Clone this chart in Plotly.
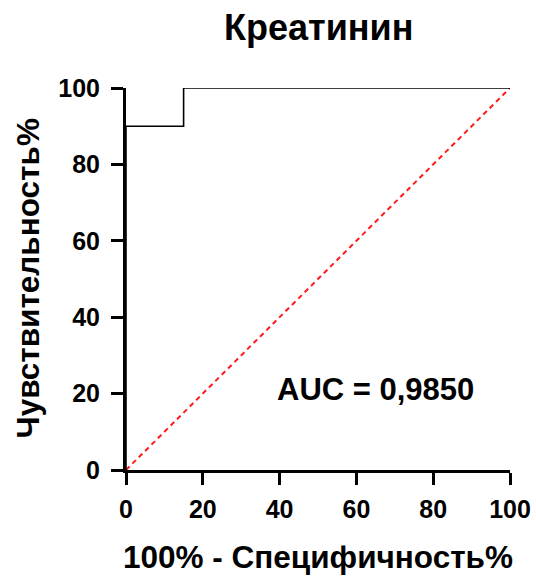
import plotly.graph_objects as go

fpr = [0, 0, 15, 15, 100]
tpr = [0, 90, 90, 100, 100]
diag_x = [0, 100]
diag_y = [0, 100]
ticks = [0, 20, 40, 60, 80, 100]
auc_text = "AUC = 0,9850"

font = "Liberation Sans, Arial, sans-serif"

W, H = 536, 576
L, R, T, B = 126, 26, 88, 106
PW, PH = W - L - R, H - T - B

fig = go.Figure()
fig.add_trace(go.Scatter(x=diag_x, y=diag_y, mode="lines",
                         line=dict(color="#ff1a1a", width=2, dash="5px,4px"),
                         hoverinfo="skip", cliponaxis=False))
fig.add_trace(go.Scatter(x=fpr, y=tpr, mode="lines",
                         line=dict(color="black", width=1.6),
                         cliponaxis=False))

axis_common = dict(range=[0, 100], tickvals=ticks, ticktext=[str(t) for t in ticks],
                   showline=True, linecolor="black", linewidth=3,
                   ticks="outside", ticklen=12, tickwidth=3, tickcolor="black",
                   showgrid=False, zeroline=False, ticklabeloverflow="allow",
                   automargin=False,
                   tickfont=dict(family=font, size=25, color="black", weight="bold"))

fig.update_layout(
    width=W, height=H,
    margin=dict(l=L, r=R, t=T, b=B),
    plot_bgcolor="white", paper_bgcolor="white",
    showlegend=False,
    xaxis=dict(**axis_common, ticklabelstandoff=3),
    yaxis=dict(**axis_common, ticklabelstandoff=6),
)
# title
fig.add_annotation(xref="paper", yref="paper", x=0.5, y=1 + (T - 27) / PH,
                   yanchor="middle", xanchor="center", showarrow=False,
                   text="<b>Креатинин</b>", font=dict(family=font, size=36, color="black"))
# x-axis title
fig.add_annotation(xref="paper", yref="paper", x=0.5, y=-(557 - (H - B)) / PH,
                   yanchor="middle", xanchor="center", showarrow=False,
                   text="<b>100% - Специфичность%</b>", font=dict(family=font, size=31.5, color="black"))
# y-axis title
fig.add_annotation(xref="paper", yref="paper", x=-(L - 27.5) / PW, y=0.5,
                   yanchor="middle", xanchor="center", showarrow=False, textangle=-90,
                   text="<b>Чувствительность%</b>", font=dict(family=font, size=31.5, color="black"))
# AUC label
fig.add_annotation(x=(375.5 - 126) / 3.84, y=(470 - 389) / 3.82, text="<b>" + auc_text + "</b>",
                   showarrow=False, yanchor="middle", xanchor="center",
                   font=dict(family=font, size=31, color="black"))

fig.write_html("out.html",
               config={"responsive": False, "displayModeBar": False},
               post_script="document.body.style.margin='0';document.body.style.overflow='hidden';")
